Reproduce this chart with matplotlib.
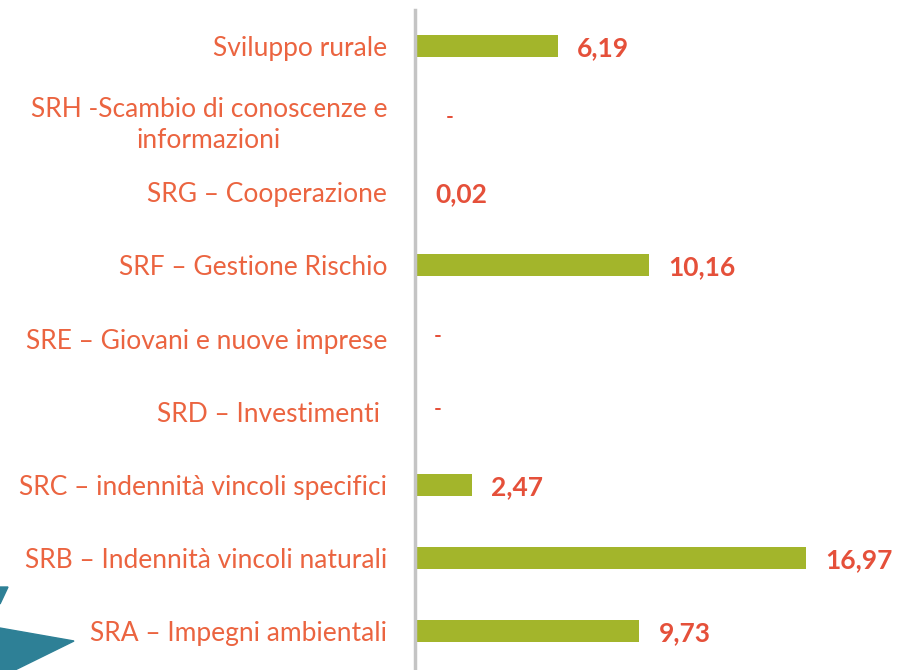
import matplotlib
matplotlib.use('Agg')
import matplotlib.pyplot as plt
from matplotlib.patches import Polygon

# data, bottom to top as drawn
categories = ['SRA – Impegni ambientali',
              'SRB – Indennità vincoli naturali',
              'SRC – indennità vincoli specifici',
              'SRD – Investimenti ',
              'SRE – Giovani e nuove imprese',
              'SRF – Gestione Rischio',
              'SRG – Cooperazione',
              'SRH -Scambio di conoscenze e\ninformazioni',
              'Sviluppo rurale']
values = [9.73, 16.97, 2.47, 0, 0, 10.16, 0.02, 0, 6.19]
value_labels = ['9,73', '16,97', '2,47', '-', '-', '10,16', '0,02', '-', '6,19']

W, H = 909, 670
fig = plt.figure(figsize=(W / 100, H / 100), dpi=100)
fig.patch.set_facecolor('white')

ax_left = 415 / W
ax = fig.add_axes([ax_left, 2.5 / H, 1 - ax_left, 658 / H])

bar_col = '#a3b52b'
lab_col = '#eb6440'
val_col = '#e5503a'

pos = list(range(len(categories)))
ax.barh(pos, values, height=0.3, color=bar_col)
ax.set_ylim(-0.5, len(categories) - 0.5)
ax.set_xlim(0, (W - 415) / 23.04)

for i, (v, lab) in enumerate(zip(values, value_labels)):
    if lab == '-':
        x = 1.5 if i == 7 else 1.0
        ax.text(x, i + 0.03, '-', color=val_col, fontsize=15, fontweight='bold',
                family='Lato', va='center', ha='center')
    else:
        ax.text(v + 0.85, i - 0.03, lab, color=val_col, fontsize=19, fontweight='bold',
                family='Lato', va='center', ha='left')

ax.set_yticks(pos)
ax.set_yticklabels(categories, color=lab_col, fontsize=19, family='Lato',
                   ha='right', multialignment='center', linespacing=1.3)
ax.tick_params(axis='y', length=0, pad=20)
ax.set_xticks([])
for s in ['top', 'right', 'bottom']:
    ax.spines[s].set_visible(False)
ax.spines['left'].set_color('#c4c4c4')
ax.spines['left'].set_linewidth(2.5)
ax.spines['left'].set_bounds(-0.52, len(categories) - 0.5)

# teal decoration in the lower left corner
teal = '#2e8096'
def px(pts):
    return [(x / W, 1 - y / H) for x, y in pts]
fig.patches.append(Polygon(px([(0, 628), (74, 641), (15, 670), (0, 670)]),
                           closed=True, color=teal, transform=fig.transFigure))
fig.patches.append(Polygon(px([(0, 587), (8, 587), (0, 604)]),
                           closed=True, color=teal, transform=fig.transFigure))

fig.savefig('out.png', dpi=100)
